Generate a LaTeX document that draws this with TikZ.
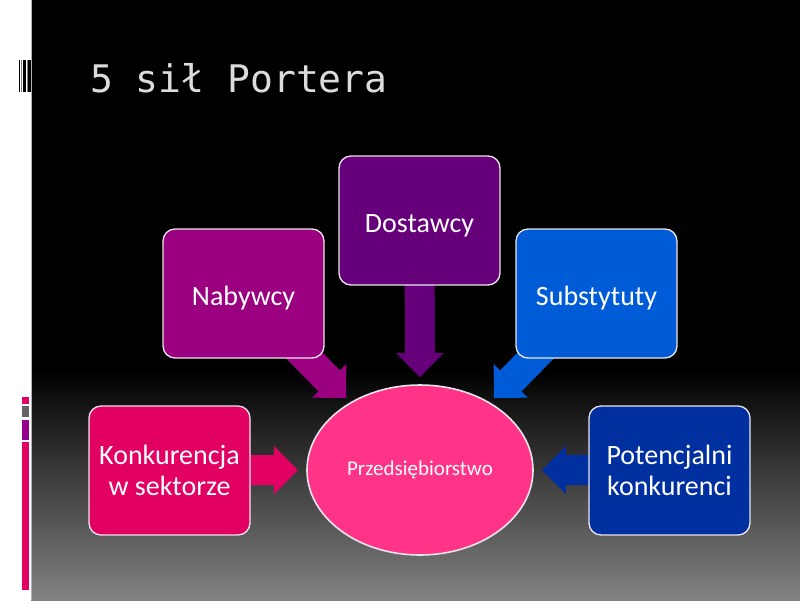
\documentclass[tikz,border=0pt]{standalone}
\usepackage{fontspec}
\setmainfont{Carlito}
\newfontfamily\titlefont{DejaVu Sans Mono}
\usetikzlibrary{arrows.meta,shapes.geometric}
\pgfdeclarelayer{back}\pgfdeclarelayer{bg}\pgfsetlayers{back,bg,main}
\definecolor{cNab}{RGB}{155,0,128}
\definecolor{cDos}{RGB}{102,0,122}
\definecolor{cSub}{RGB}{0,92,214}
\definecolor{cKon}{RGB}{226,0,98}
\definecolor{cPot}{RGB}{0,48,160}
\definecolor{cFirm}{RGB}{255,51,136}
\definecolor{cTitle}{RGB}{220,220,220}
\definecolor{cEdge}{RGB}{235,230,235}
\definecolor{cBarGray}{RGB}{100,100,100}
\definecolor{cBarPurple}{RGB}{150,0,140}
\newcommand{\lowtext}[1]{\raisebox{-5pt}[\height][\depth]{#1}}
\tikzset{
  forcebox/.style={draw=cEdge, line width=1.3pt, rounded corners=12pt,
    minimum width=161pt, minimum height=129pt, inner sep=0pt, align=center,
    text=white, font=\fontsize{28}{31}\selectfont},
  forcearrow/.style={line width=30pt,
    -{Triangle[length=24pt,width=48pt,line width=0pt]}},
}
\begin{document}
\begin{tikzpicture}[x=1pt,y=-1pt]
\useasboundingbox (0,0) rectangle (800,600);
\begin{pgfonlayer}{back}
% background
\fill[white] (0,0) rectangle (31,600);
\fill[black] (31,0) rectangle (800,370);
\shade[top color=black, bottom color={rgb,255:red,130;green,130;blue,130}] (31,370) rectangle (800,600);
\draw[gray!60, line width=0.8pt] (31,0) -- (31,600);
% barcode marks
\fill[black] (19,60) rectangle (20.3,92);
\fill[gray] (21.3,60) rectangle (22,92);
\fill[black] (23.3,60) rectangle (25.7,92);
\fill[gray] (26.7,60) rectangle (27.7,92);
\fill[black] (28,60) rectangle (31,92);
% left bars
\fill[cKon] (22,397) rectangle (29,404);
\fill[cBarGray] (22,406) rectangle (29,417);
\fill[cBarPurple] (22,420) rectangle (29,440);
\fill[cKon] (22,442) rectangle (29,590);
\end{pgfonlayer}
% title
\node[anchor=base west, inner sep=0pt, text=cTitle,
  font=\titlefont\fontsize{38}{38}\selectfont] (title) at (90,92) {5 sił Portera};
% boxes
\node[forcebox, fill=cNab] (nab) at (243.5,293.5) {\lowtext{Nabywcy}};
\node[forcebox, fill=cDos] (dos) at (419.5,220.5) {\lowtext{Dostawcy}};
\node[forcebox, fill=cSub] (sub) at (596.5,293.5) {\lowtext{Substytuty}};
\node[forcebox, fill=cKon] (kon) at (169.5,470.5) {Konkurencja\\w sektorze};
\node[forcebox, fill=cPot] (pot) at (669.5,470.5) {Potencjalni\\konkurenci};
\node[ellipse, draw=cEdge, line width=1.6pt, fill=cFirm, minimum width=226pt,
  minimum height=170pt, inner sep=0pt, text=white,
  font=\fontsize{21}{24}\selectfont] (firm) at (420,470) {Przedsiębiorstwo};
% arrow tips
\coordinate (tNab) at (346,398);
\coordinate (tDos) at (420,377);
\coordinate (tSub) at (494,398);
\coordinate (tKon) at (298,470);
\coordinate (tPot) at (542,470);
\begin{pgfonlayer}{bg}
\draw[forcearrow, cNab] (nab.center) -- (tNab);
\draw[forcearrow, cDos] (dos.center) -- (tDos);
\draw[forcearrow, cSub] (sub.center) -- (tSub);
\draw[forcearrow, cKon] (kon.center) -- (tKon);
\draw[forcearrow, cPot] (pot.center) -- (tPot);
\end{pgfonlayer}
\end{tikzpicture}
\end{document}
